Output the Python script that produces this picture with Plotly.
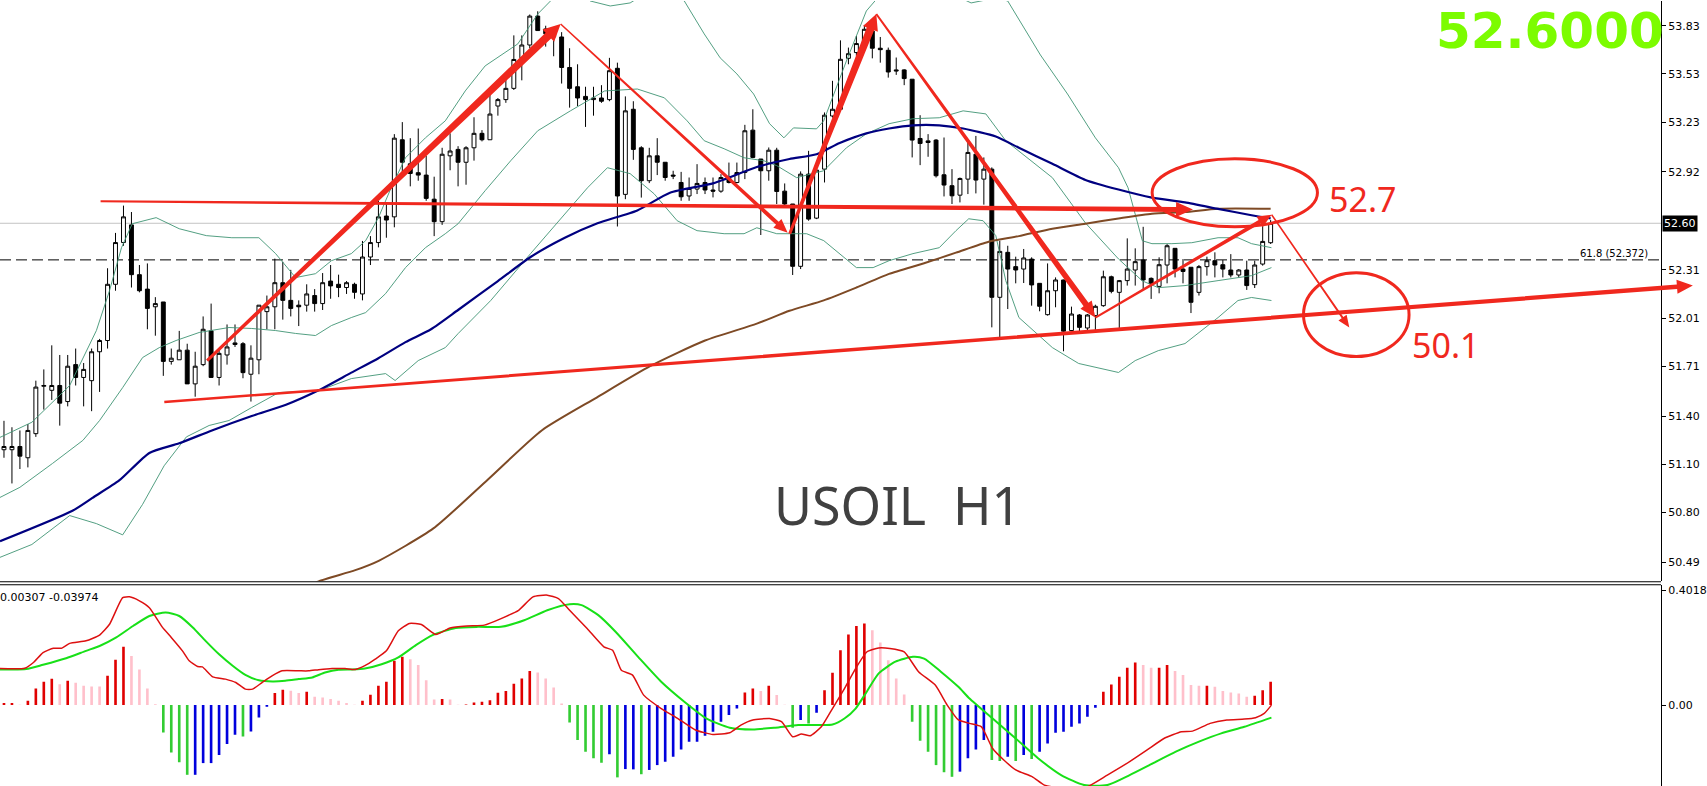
import math
import plotly.graph_objects as go

# ---------------- data ----------------
opens = [51.19, 51.19, 51.21, 51.14, 51.29, 51.585, 51.56, 51.59, 51.49, 51.72,
         51.64, 51.62, 51.80, 51.87, 52.22, 52.48, 52.59, 52.28, 52.19, 52.08,
         52.11, 51.74, 51.75, 51.81, 51.60, 51.72, 51.93, 51.64, 51.78, 51.845,
         51.85, 51.66, 51.75, 52.05, 52.08, 52.23, 52.12, 52.09, 52.09, 52.15,
         52.10, 52.24, 52.22, 52.20, 52.22, 52.16, 52.39, 52.48, 52.645, 52.64,
         53.12, 52.97, 52.915, 52.90, 52.75, 52.61, 53.02, 53.06, 52.98, 53.07,
         53.16, 53.12, 53.33, 53.37, 53.44, 53.63, 53.71, 53.89, 53.81, 53.79,
         53.76, 53.57, 53.45, 53.39, 53.37, 53.38, 53.37, 53.565, 52.78, 53.31,
         53.07, 52.865, 53.02, 52.98, 52.90, 52.854, 52.77, 52.813, 52.854, 52.807,
         52.80, 52.879, 52.854, 52.916, 53.18, 53.00, 52.927, 53.055, 52.80, 52.72,
         52.332, 52.906, 52.632, 52.937, 53.268, 53.31, 53.627, 53.663, 53.719, 53.797,
         53.69, 53.677, 53.555, 53.555, 53.497, 53.128, 53.113, 53.118, 52.902, 52.834,
         52.775, 52.875, 53.03, 52.875, 52.937, 52.139, 52.419, 52.33, 52.315, 52.377,
         52.226, 52.031, 52.18, 52.247, 51.932, 52.029, 51.948, 52.025, 52.087, 52.267,
         52.17, 52.243, 52.309, 52.371, 52.257, 52.207, 52.34, 52.444, 52.315, 52.326,
         52.17, 52.33, 52.367, 52.342, 52.309, 52.278, 52.309, 52.218, 52.346, 52.479]
highs = [51.37, 51.33, 51.31, 51.35, 51.62, 51.69, 51.84, 51.78, 51.78, 51.82,
         51.73, 51.82, 51.88, 52.32, 52.54, 52.71, 52.67, 52.34, 52.35, 52.14,
         52.11, 51.82, 51.93, 51.85, 51.80, 52.02, 52.10, 51.82, 51.97, 51.97,
         51.86, 51.84, 52.09, 52.15, 52.38, 52.36, 52.31, 52.12, 52.22, 52.19,
         52.29, 52.34, 52.28, 52.24, 52.23, 52.49, 52.52, 52.74, 52.73, 53.155,
         53.23, 53.13, 53.19, 53.02, 52.89, 53.07, 53.16, 53.08, 53.08, 53.26,
         53.18, 53.40, 53.38, 53.53, 53.77, 53.77, 53.90, 53.92, 53.83, 53.81,
         53.79, 53.69, 53.59, 53.45, 53.45, 53.46, 53.63, 53.60, 53.39, 53.36,
         53.08, 53.07, 53.13, 52.98, 52.927, 52.92, 52.885, 52.968, 52.885, 52.885,
         52.906, 52.978, 52.978, 53.213, 53.31, 53.00, 53.072, 53.07, 52.848, 52.72,
         52.923, 53.051, 52.937, 53.29, 53.487, 53.739, 53.694, 53.766, 53.835, 53.818,
         53.76, 53.694, 53.632, 53.559, 53.497, 53.273, 53.155, 53.124, 53.134, 52.937,
         52.885, 53.113, 53.144, 53.01, 52.948, 52.491, 52.46, 52.392, 52.44, 52.388,
         52.226, 52.35, 52.263, 52.249, 52.081, 52.035, 52.035, 52.093, 52.305, 52.274,
         52.247, 52.506, 52.444, 52.578, 52.263, 52.388, 52.47, 52.444, 52.377, 52.326,
         52.34, 52.392, 52.419, 52.371, 52.408, 52.315, 52.367, 52.367, 52.605, 52.62]
lows = [51.14, 50.98, 51.07, 51.08, 51.27, 51.44, 51.50, 51.34, 51.46, 51.59,
        51.46, 51.43, 51.55, 51.82, 52.18, 52.46, 52.20, 52.17, 51.94, 51.90,
        51.65, 51.72, 51.75, 51.60, 51.52, 51.71, 51.64, 51.59, 51.72, 51.83,
        51.635, 51.49, 51.66, 51.94, 51.94, 52.00, 52.02, 51.96, 52.05, 52.05,
        52.06, 52.13, 52.14, 52.16, 52.13, 52.12, 52.34, 52.45, 52.51, 52.575,
        52.91, 52.83, 52.865, 52.74, 52.52, 52.59, 52.93, 52.83, 52.84, 52.99,
        53.11, 53.12, 53.27, 53.35, 53.43, 53.49, 53.69, 53.80, 53.70, 53.64,
        53.47, 53.32, 53.33, 53.20, 53.27, 53.35, 53.36, 52.58, 52.75, 52.995,
        52.76, 52.85, 52.90, 52.865, 52.875, 52.74, 52.74, 52.782, 52.782, 52.761,
        52.79, 52.848, 52.848, 52.875, 53.005, 52.527, 52.865, 52.72, 52.699, 52.278,
        52.315, 52.616, 52.626, 52.854, 53.258, 53.31, 53.59, 53.642, 53.715, 53.627,
        53.60, 53.507, 53.524, 53.46, 53.01, 52.962, 53.014, 52.885, 52.767, 52.72,
        52.73, 52.782, 52.786, 52.716, 51.952, 51.89, 52.066, 52.226, 52.228, 52.087,
        52.052, 52.025, 52.077, 51.803, 51.928, 51.928, 51.928, 51.932, 52.08, 52.164,
        51.942, 52.212, 52.212, 52.191, 52.129, 52.164, 52.226, 52.263, 52.226, 52.041,
        52.15, 52.274, 52.263, 52.263, 52.263, 52.263, 52.185, 52.197, 52.336, 52.471]
closes = [51.21, 51.21, 51.15, 51.31, 51.58, 51.59, 51.59, 51.48, 51.71, 51.64,
          51.69, 51.80, 51.87, 52.22, 52.48, 52.64, 52.28, 52.18, 52.07, 52.10,
          51.74, 51.76, 51.81, 51.60, 51.71, 51.94, 51.64, 51.79, 51.83, 51.855,
          51.67, 51.76, 52.09, 52.08, 52.23, 52.12, 52.07, 52.08, 52.16, 52.10,
          52.23, 52.21, 52.20, 52.23, 52.17, 52.39, 52.48, 52.64, 52.62, 53.13,
          52.98, 52.91, 52.90, 52.755, 52.61, 53.03, 53.05, 52.98, 53.07, 53.16,
          53.12, 53.28, 53.37, 53.44, 53.62, 53.71, 53.89, 53.80, 53.78, 53.76,
          53.57, 53.44, 53.38, 53.37, 53.38, 53.36, 53.55, 52.77, 53.30, 53.06,
          52.865, 53.02, 52.98, 52.885, 52.894, 52.765, 52.817, 52.848, 52.807, 52.80,
          52.885, 52.854, 52.916, 53.176, 53.01, 52.927, 53.055, 52.798, 52.72, 52.332,
          52.906, 52.626, 52.931, 53.273, 53.31, 53.621, 53.656, 53.719, 53.808, 53.69,
          53.681, 53.542, 53.549, 53.501, 53.118, 53.097, 53.103, 52.896, 52.838, 52.771,
          52.879, 53.041, 52.869, 52.937, 52.139, 52.425, 52.315, 52.309, 52.384, 52.216,
          52.083, 52.18, 52.247, 51.928, 52.035, 51.952, 52.029, 52.083, 52.267, 52.176,
          52.243, 52.315, 52.361, 52.247, 52.226, 52.342, 52.46, 52.315, 52.30, 52.108,
          52.33, 52.367, 52.34, 52.315, 52.278, 52.309, 52.212, 52.34, 52.487, 52.60]
bars = list(range(len(closes)))

ma_blue_x = [-0.5, 8.6, 11.1, 14.5, 18.25, 22, 26.1, 31.1, 35.4, 39.5, 43.6, 47, 50.4, 53.6, 57, 62, 66.1,
             70.4, 74.5, 79.5, 83.6, 89.1, 94.5, 98.6, 102, 104.9, 108.25, 111.1, 114.1, 117.4, 120.4,
             124.5, 127.4, 131.6, 135.75, 139.9, 144.1, 148.25, 152.4, 156.6, 159]
ma_blue_y = [50.62, 50.81, 50.89, 51.00, 51.17, 51.23, 51.31, 51.40, 51.47, 51.56, 51.67, 51.76, 51.86,
             51.94, 52.06, 52.24, 52.39, 52.51, 52.60, 52.68, 52.79, 52.85, 52.95, 53.00, 53.03, 53.10,
             53.16, 53.19, 53.21, 53.21, 53.19, 53.14, 53.07, 52.97, 52.87, 52.81, 52.76, 52.73, 52.69,
             52.65, 52.63]
ma_brown_x = [38.0, 39.5, 44.1, 47.1, 53.9, 60.75, 67.5, 74.4, 81.1, 88, 94.5, 98.6, 102.9, 107, 111.1,
              115.4, 119.5, 123.6, 127.4, 131.6, 135.75, 139.9, 144.1, 148.25, 152.4, 159]
ma_brown_y = [50.33, 50.37, 50.44, 50.50, 50.70, 51.005, 51.31, 51.515, 51.71, 51.87, 51.975, 52.055,
              52.12, 52.20, 52.285, 52.35, 52.417, 52.485, 52.52, 52.566, 52.597, 52.63, 52.66, 52.67,
              52.69, 52.69]

bb_up_x = [-0.5, 3.5, 8.25, 11.6, 13.25, 14.75, 16.1, 19.1, 22, 25.4, 28.6, 32, 34.1, 36.6, 39.1, 41.1,
           43.6, 45.4, 47, 48.6, 50.4, 52.9, 55.4, 57.9, 60.4, 64.5, 67, 68.6, 70.75, 73.6, 76.1, 78.6,
           82, 85.4, 87.9, 89.9, 92, 94.1, 96.1, 97.9, 99.1, 102, 102.9, 105.75, 108.25, 110.4, 114.5,
           118.25, 121.4, 124.5, 126, 130.1, 133.5, 137, 139.9, 141.1, 142.9, 144.1, 146.6, 149.1,
           152.4, 154.9, 156.6, 159.1]
bb_up_y = [51.267, 51.361, 51.590, 51.932, 52.181, 52.448, 52.597, 52.635, 52.566, 52.523, 52.510,
           52.510, 52.411, 52.262, 52.286, 52.367, 52.411, 52.492, 52.635, 52.821, 53.008, 53.132,
           53.238, 53.424, 53.580, 53.717, 53.903, 53.984, 54.109, 53.984, 53.953, 53.972, 54.077,
           53.984, 53.779, 53.630, 53.530, 53.405, 53.220, 53.132, 53.194, 53.188, 53.238, 53.611,
           53.922, 54.046, 54.233, 54.046, 53.972, 54.003, 53.984, 53.648, 53.405, 53.132, 52.946,
           52.821, 52.491, 52.473, 52.473, 52.479, 52.510, 52.510, 52.473, 52.448]
bb_mid_x = [-0.5, 2, 6.1, 9.9, 12, 14.9, 17.4, 19.5, 21.6, 24.5, 28.25, 31.1, 34.1, 36.6, 39.1, 41.1,
            43.6, 45.4, 47.9, 50.4, 52.9, 55.4, 57, 60.4, 63.6, 67, 71.1, 75.4, 79.5, 82.9, 85.75,
            87.9, 90.4, 92.9, 95.4, 97, 99.5, 102.9, 105.75, 108.25, 111.1, 114.1, 117.4, 120.4,
            123.25, 125.75, 131.6, 135.75, 139.9, 142.9, 144.9, 148.25, 152.4, 156.6, 159.1]
bb_mid_y = [50.893, 50.956, 51.105, 51.248, 51.372, 51.577, 51.764, 51.826, 51.870, 51.920, 51.951,
            51.945, 51.932, 51.914, 51.901, 51.963, 52.013, 52.044, 52.162, 52.324, 52.448, 52.535,
            52.597, 52.803, 52.989, 53.176, 53.300, 53.424, 53.436, 53.381, 53.238, 53.114, 53.064,
            53.008, 52.989, 52.959, 52.884, 52.927, 53.070, 53.157, 53.220, 53.251, 53.257, 53.300,
            53.281, 53.114, 52.884, 52.602, 52.378, 52.241, 52.199, 52.212, 52.243, 52.274, 52.324]
bb_lo_x = [-0.5, 3.5, 8.25, 11.6, 14.9, 17.4, 20.1, 22.9, 25.75, 28.25, 31.1, 34.5, 39.5, 43.6, 47.9,
           49.1, 52, 55.4, 57, 61.1, 66.1, 70.4, 73.25, 75.75, 78.6, 81.6, 84.5, 87, 90.4, 92.9, 94.5,
           97, 100.75, 102.9, 104.9, 107, 109.1, 111.1, 114.1, 117.4, 119.5, 121.1, 122.9, 124.5,
           125.75, 127.4, 131.6, 134.9, 139.9, 142, 144.9, 148.25, 152.4, 154.9, 156.6, 159.1]
bb_lo_y = [50.52, 50.60, 50.78, 50.73, 50.66, 50.85, 51.09, 51.27, 51.341, 51.372, 51.453, 51.546,
           51.558, 51.633, 51.664, 51.621, 51.745, 51.826, 51.913, 52.119, 52.411, 52.660, 52.821,
           52.946, 52.909, 52.784, 52.616, 52.554, 52.535, 52.535, 52.572, 52.535, 52.535, 52.492,
           52.411, 52.324, 52.324, 52.367, 52.411, 52.448, 52.554, 52.628, 52.616, 52.523, 52.243,
           52.013, 51.826, 51.727, 51.671, 51.745, 51.807, 51.851, 52.013, 52.119, 52.138, 52.119]

hist = [0.007, 0.007, 0.001, 0.015, 0.058, 0.082, 0.092, 0.073, 0.085, 0.078,
        0.068, 0.065, 0.065, 0.103, 0.159, 0.204, 0.172, 0.125, 0.058, 0.003,
        -0.096, -0.166, -0.200, -0.244, -0.244, -0.203, -0.203, -0.175, -0.136, -0.104,
        -0.110, -0.092, -0.043, -0.006, 0.042, 0.054, 0.050, 0.042, 0.047, 0.029,
        0.027, 0.021, 0.015, 0.007, 0.001, 0.015, 0.036, 0.068, 0.082, 0.155,
        0.169, 0.161, 0.140, 0.087, 0.020, 0.021, 0.020, 0.001, 0.002, 0.009,
        0.012, 0.017, 0.043, 0.049, 0.075, 0.093, 0.119, 0.114, 0.093, 0.062,
        0.006, -0.061, -0.122, -0.163, -0.186, -0.202, -0.172, -0.253, -0.224, -0.225,
        -0.242, -0.227, -0.210, -0.198, -0.181, -0.155, -0.128, -0.128, -0.107, -0.093,
        -0.058, -0.035, -0.012, 0.044, 0.058, 0.049, 0.068, 0.035, 0.001, -0.079,
        -0.052, -0.064, -0.027, 0.052, 0.113, 0.192, 0.247, 0.277, 0.286, 0.262,
        0.219, 0.157, 0.093, 0.037, -0.058, -0.125, -0.163, -0.210, -0.235, -0.251,
        -0.233, -0.186, -0.155, -0.122, -0.192, -0.196, -0.181, -0.196, -0.175, -0.189,
        -0.163, -0.134, -0.097, -0.093, -0.076, -0.064, -0.041, -0.009, 0.047, 0.072,
        0.099, 0.131, 0.149, 0.140, 0.131, 0.131, 0.140, 0.119, 0.105, 0.070,
        0.068, 0.068, 0.064, 0.049, 0.044, 0.041, 0.029, 0.033, 0.052, 0.082]
hist_kind = list("rrprrrrprp" "ppprrrpppp" "ggggbbbbbb" "gbbbrrpprp" "ppppprrrrr"
                 "rpppprpprr" "rrrrrrrppp" "pgggggbgbb" "gbbbbbbbbb" "bbbrrprppg"
                 "bgbrrrrrrp" "ppppgggggg" "bbbbggbgbg" "bbbbbbbbrr" "rrrpprrppp"
                 "prppppprrr")

macd_x = [-0.5, 2.6, 3.7, 4.9, 6.2, 7.2, 8.25, 10.3, 12, 13.25, 14.9, 15.75, 17, 18.25, 19.9, 21, 22.4,
          23.25, 24.3, 24.9, 26.2, 27.8, 29.1, 30.3, 31.2, 32.4, 33.7, 34.9, 37, 38.25, 39.5, 41.2, 42.8,
          44.1, 45.3, 46.6, 48, 49.5, 50.9, 52.4, 54.2, 56, 58.1, 60.3, 62.4, 64.6, 66.4, 68.2, 69.6, 71,
          73.2, 75.3, 76.4, 77.5, 78.9, 80.3, 82.5, 84.6, 86.8, 89, 91.1, 92.5, 94, 96.1, 97.6, 99, 100.1,
          101.2, 102.6, 104, 105.5, 106.9, 108.3, 109.8, 111.2, 113, 114.8, 116.9, 118.4, 119.8, 121.2,
          122.7, 124.1, 125.5, 127, 129.1, 130.6, 132.7, 135.6, 138.5, 141.3, 143.5, 145.6, 147.8, 149.2,
          151.4, 153.5, 155.7, 157.1, 158.2, 159.1]
macd_v = [0.128, 0.129, 0.149, 0.184, 0.199, 0.199, 0.216, 0.225, 0.245, 0.283, 0.376, 0.379, 0.365,
          0.341, 0.272, 0.237, 0.190, 0.155, 0.135, 0.134, 0.099, 0.091, 0.079, 0.056, 0.056, 0.079,
          0.103, 0.120, 0.120, 0.120, 0.124, 0.128, 0.128, 0.125, 0.138, 0.161, 0.190, 0.26, 0.286,
          0.282, 0.247, 0.270, 0.277, 0.280, 0.303, 0.332, 0.379, 0.385, 0.373, 0.332, 0.268, 0.204,
          0.192, 0.122, 0.105, 0.035, -0.012, -0.047, -0.087, -0.103, -0.097, -0.070, -0.052, -0.047,
          -0.058, -0.111, -0.101, -0.107, -0.076, -0.012, 0.058, 0.128, 0.186, 0.200, 0.198, 0.186,
          0.117, 0.070, 0.0, -0.052, -0.064, -0.076, -0.152, -0.192, -0.227, -0.251, -0.280, -0.290,
          -0.291, -0.245, -0.198, -0.157, -0.117, -0.093, -0.091, -0.064, -0.052, -0.049, -0.044,
          -0.029, 0.0]
sig_x = [-0.5, 2.8, 4.9, 7.8, 10.3, 12, 14.1, 16.2, 18.25, 20.3, 22, 23.7, 25.3, 27, 28.7, 30.3, 32,
         33.7, 35.3, 37, 38.7, 40.3, 42, 43.7, 45.3, 47.4, 49.5, 51.7, 53.8, 56.7, 59.5, 62.4, 65.3,
         68.2, 71, 72.5, 74.6, 76.8, 79.6, 82.5, 85.4, 88.2, 91.1, 94, 96.8, 99.7, 102.6, 104, 105.5,
         106.9, 108.3, 109.8, 111.9, 114.1, 115.5, 117.6, 119.8, 121.2, 124.1, 127, 129.8, 132.7,
         135.6, 138.5, 141.3, 144.2, 147.1, 150, 152.8, 155.7, 159.1]
sig_v = [0.125, 0.126, 0.141, 0.164, 0.190, 0.207, 0.237, 0.277, 0.312, 0.324, 0.312, 0.272, 0.225,
         0.178, 0.138, 0.106, 0.087, 0.083, 0.085, 0.091, 0.097, 0.114, 0.124, 0.125, 0.128, 0.143,
         0.167, 0.210, 0.245, 0.270, 0.274, 0.274, 0.297, 0.332, 0.353, 0.350, 0.315, 0.256, 0.169,
         0.082, 0.012, -0.047, -0.079, -0.085, -0.079, -0.070, -0.070, -0.068, -0.047, -0.012, 0.047,
         0.111, 0.152, 0.169, 0.163, 0.117, 0.064, 0.023, -0.047, -0.117, -0.186, -0.245, -0.280,
         -0.280, -0.245, -0.204, -0.163, -0.128, -0.099, -0.076, -0.044]

price_ticks = [53.83, 53.53, 53.23, 52.92, 52.31, 52.01, 51.71, 51.40, 51.10, 50.80, 50.49]
last_price = 52.60
fib_level = 52.372
macd_ticks = [0.4018, 0.0]
macd_tick_text = ["0.4018", "0.00"]

# analyst drawings: (start (bar, price), end (bar, price), start width, end width, head width, head length)
arrows = [
    ((12.125, 52.737), (149.25, 52.685), 2.0, 5.0, 15, 17),
    ((20.125, 51.487), (212.0, 52.212), 2.5, 4.5, 14, 16),
    ((25.5, 51.745), (69.875, 53.841), 3.0, 8.0, 17, 17),
    ((69.875, 53.841), (98.375, 52.541), 1.5, 4.0, 12, 14),
    ((98.625, 52.535), (109.5, 53.903), 3.0, 8.0, 16, 16),
    ((109.5, 53.903), (137.0, 52.013), 2.0, 6.0, 14, 16),
    ((137.0, 52.013), (159.125, 52.653), 2.0, 4.0, 12, 14),
    ((159.125, 52.653), (168.875, 51.951), 1.5, 2.0, 10, 12),
]
ellipses = [((154.5, 52.79), 10.375, 0.2114), ((169.75, 52.031), 6.625, 0.261)]
labels = [("52.7", 170.5, 52.753), ("50.1", 181.0, 51.845)]

# ---------------- layout geometry ----------------
FIG_W, FIG_H = 1707, 786
R_MARGIN = 39
PLOT_W = FIG_W - R_MARGIN
MAIN_H = 581
X_RANGE = [-0.5, 208.0]
Y_RANGE = [50.371, 53.984]
MACD_RANGE = [-0.2832, 0.4196]
RED = "#F0281E"


def to_px(i, p):
    x = (i - X_RANGE[0]) / (X_RANGE[1] - X_RANGE[0]) * PLOT_W
    y = (Y_RANGE[1] - p) / (Y_RANGE[1] - Y_RANGE[0]) * MAIN_H
    return x, y


def arrow_path(p0, p1, w0, w1, hw, hl):
    x0, y0 = to_px(*p0)
    x1, y1 = to_px(*p1)
    dx, dy = x1 - x0, y1 - y0
    L = math.hypot(dx, dy)
    ux, uy = dx / L, dy / L
    nx, ny = -uy, ux
    bx, by = x1 - ux * hl, y1 - uy * hl
    pts = [(x0 + nx * w0 / 2, y0 + ny * w0 / 2), (bx + nx * w1 / 2, by + ny * w1 / 2),
           (bx + nx * hw / 2, by + ny * hw / 2), (x1, y1),
           (bx - nx * hw / 2, by - ny * hw / 2), (bx - nx * w1 / 2, by - ny * w1 / 2),
           (x0 - nx * w0 / 2, y0 - ny * w0 / 2)]
    return "M " + " L ".join(f"{x / PLOT_W:.5f},{1 - y / FIG_H:.5f}" for x, y in pts) + " Z"


fig = go.Figure()

band_style = dict(color="#3F9474", width=0.9)
for bx_, by_ in ((bb_up_x, bb_up_y), (bb_mid_x, bb_mid_y), (bb_lo_x, bb_lo_y)):
    fig.add_trace(go.Scatter(x=bx_, y=by_, mode="lines", line=band_style, xaxis="x", yaxis="y"))
fig.add_trace(go.Scatter(x=ma_brown_x, y=ma_brown_y, mode="lines",
                         line=dict(color="#7E4A25", width=2, shape="spline", smoothing=0.6)))
fig.add_trace(go.Scatter(x=ma_blue_x, y=ma_blue_y, mode="lines",
                         line=dict(color="#000080", width=2.2, shape="spline", smoothing=0.6)))

fig.add_trace(go.Candlestick(
    x=bars, open=opens, high=highs, low=lows, close=closes,
    increasing=dict(line=dict(color="black", width=1), fillcolor="white"),
    decreasing=dict(line=dict(color="black", width=1), fillcolor="black"),
    whiskerwidth=0, xaxis="x", yaxis="y"))

col_map = {"r": "#E00000", "p": "#FFC0CB", "g": "#33CC33", "b": "#0000DD"}
fig.add_trace(go.Bar(x=bars, y=hist, marker=dict(color=[col_map[k] for k in hist_kind], line=dict(width=0)),
                     width=0.33, xaxis="x", yaxis="y2"))
fig.add_trace(go.Scatter(x=sig_x, y=sig_v, mode="lines", xaxis="x", yaxis="y2",
                         line=dict(color="#18E018", width=2, shape="spline", smoothing=0.6)))
fig.add_trace(go.Scatter(x=macd_x, y=macd_v, mode="lines", xaxis="x", yaxis="y2",
                         line=dict(color="#DD1010", width=1.5, shape="spline", smoothing=0.5)))

shapes = []
shapes.append(dict(type="line", xref="paper", yref="y", x0=0, x1=1, y0=last_price, y1=last_price,
                   line=dict(color="#C4C4C4", width=1), layer="below"))
shapes.append(dict(type="line", xref="paper", yref="y", x0=0, x1=1, y0=fib_level, y1=fib_level,
                   line=dict(color="black", width=1, dash="11px,5px"), layer="below"))
for py in (581.5, 584.5):
    shapes.append(dict(type="line", xref="paper", yref="paper", x0=0, x1=1,
                       y0=1 - py / FIG_H, y1=1 - py / FIG_H, line=dict(color="black", width=1)))
for p0, p1, w0, w1, hw, hl in arrows:
    shapes.append(dict(type="path", xref="paper", yref="paper", path=arrow_path(p0, p1, w0, w1, hw, hl),
                       fillcolor=RED, line=dict(width=0), layer="above"))
for (cx, cy), rx, ry in ellipses:
    shapes.append(dict(type="circle", xref="x", yref="y", x0=cx - rx, x1=cx + rx, y0=cy - ry, y1=cy + ry,
                       line=dict(color=RED, width=3), layer="above"))

annotations = []
for txt, lx, ly in labels:
    annotations.append(dict(text=txt, x=lx, y=ly, xref="x", yref="y", showarrow=False,
                            font=dict(family="Noto Sans", size=34, color=RED)))
annotations.append(dict(text="USOIL&nbsp;&nbsp;H1", x=112.125, y=50.85, xref="x", yref="y", showarrow=False,
                        font=dict(family="Noto Sans", size=52, color="#404040")))
annotations.append(dict(text="52.6000", x=1664 / PLOT_W, y=1, xref="paper", yref="paper",
                        xanchor="right", yanchor="top", yshift=1, xshift=9, showarrow=False,
                        font=dict(family="DejaVu Sans", size=50, color="#7CFC00", weight="bold")))
annotations.append(dict(text="61.8 (52.372)", x=1657 / PLOT_W, y=fib_level, xref="paper", yref="y",
                        xanchor="right", yanchor="bottom", showarrow=False, yshift=-1,
                        font=dict(family="DejaVu Sans", size=10, color="black")))
annotations.append(dict(text=f"{last_price:.2f}", x=1.0, y=last_price, xref="paper", yref="y",
                        xanchor="left", yanchor="middle", showarrow=False, xshift=1,
                        bgcolor="black", borderpad=1,
                        font=dict(family="DejaVu Sans", size=11, color="white")))
annotations.append(dict(text="0.00307 -0.03974", x=0, y=1 - 597 / FIG_H, xref="paper", yref="paper",
                        xanchor="left", yanchor="middle", showarrow=False, xshift=-2,
                        font=dict(family="DejaVu Sans", size=11, color="black")))

tick_font = dict(family="DejaVu Sans", size=11, color="black")
fig.update_layout(
    width=FIG_W, height=FIG_H,
    margin=dict(l=0, r=R_MARGIN, t=0, b=0),
    paper_bgcolor="white", plot_bgcolor="white",
    showlegend=False, hovermode=False,
    xaxis=dict(domain=[0, 1], range=X_RANGE, visible=False, rangeslider=dict(visible=False),
               showgrid=False, zeroline=False, anchor="y"),
    yaxis=dict(domain=[1 - MAIN_H / FIG_H, 1], range=Y_RANGE, side="right", anchor="x",
               tickvals=price_ticks, ticktext=[f"{v:.2f}" for v in price_ticks],
               ticks="outside", ticklen=4, tickcolor="black", tickfont=tick_font,
               showline=True, linecolor="black", linewidth=1, showgrid=False, zeroline=False),
    yaxis2=dict(domain=[0, 1 - 585 / FIG_H], range=MACD_RANGE, side="right", anchor="x",
                tickvals=macd_ticks, ticktext=macd_tick_text,
                ticks="outside", ticklen=4, tickcolor="black", tickfont=tick_font,
                showline=True, linecolor="black", linewidth=1, showgrid=False, zeroline=False),
    shapes=shapes, annotations=annotations,
)

fig.write_html("out.html", config={"displayModeBar": False, "staticPlot": True},
               post_script="document.body.style.margin='0';document.body.style.padding='0';"
                           "document.documentElement.style.overflow='hidden';")
